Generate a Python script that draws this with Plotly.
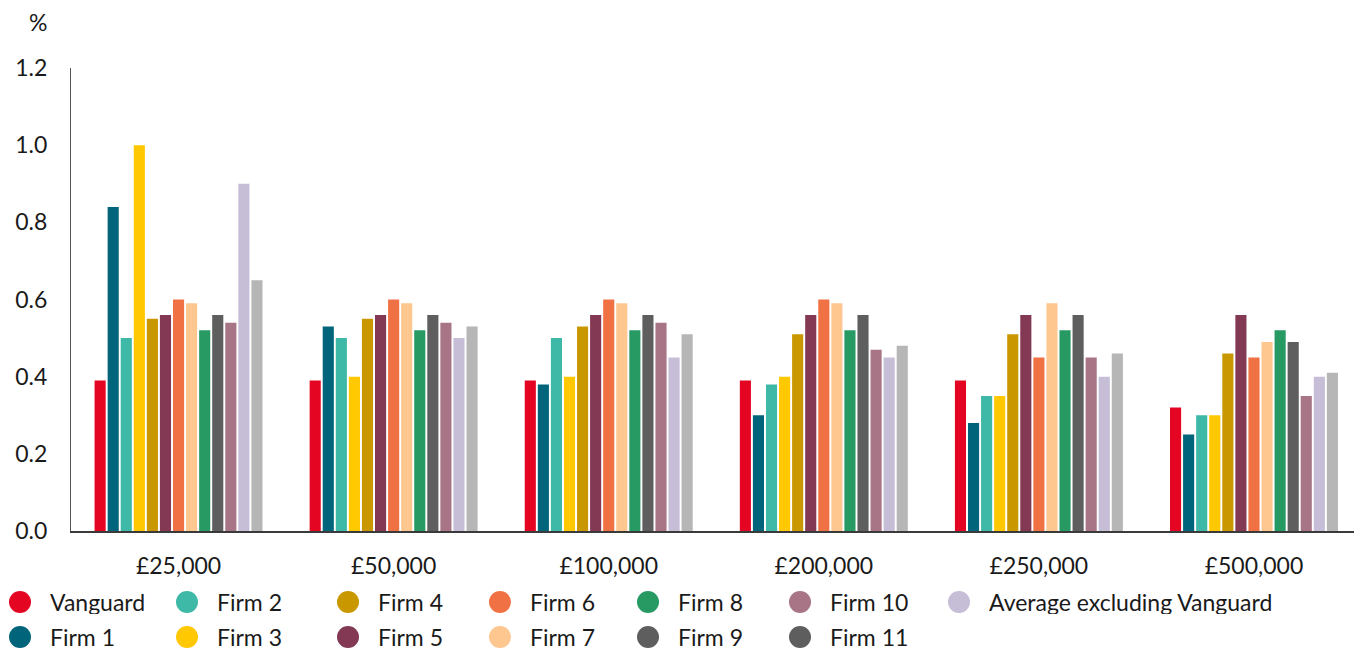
import plotly.graph_objects as go

categories = ["£25,000", "£50,000", "£100,000", "£200,000", "£250,000", "£500,000"]

series_names = ["Vanguard", "Firm 1", "Firm 2", "Firm 3", "Firm 4", "Firm 5", "Firm 6",
                "Firm 7", "Firm 8", "Firm 9", "Firm 10", "Firm 11", "Average excluding Vanguard"]

vanguard = [0.39, 0.39, 0.39, 0.39, 0.39, 0.32]
firm1 = [0.84, 0.53, 0.38, 0.30, 0.28, 0.25]
firm2 = [0.50, 0.50, 0.50, 0.38, 0.35, 0.30]
firm3 = [1.00, 0.40, 0.40, 0.40, 0.35, 0.30]
firm4 = [0.55, 0.55, 0.53, 0.51, 0.51, 0.46]
firm5 = [0.56, 0.56, 0.56, 0.56, 0.56, 0.56]
firm6 = [0.60, 0.60, 0.60, 0.60, 0.45, 0.45]
firm7 = [0.59, 0.59, 0.59, 0.59, 0.59, 0.49]
firm8 = [0.52, 0.52, 0.52, 0.52, 0.52, 0.52]
firm9 = [0.56, 0.56, 0.56, 0.56, 0.56, 0.49]
firm10 = [0.54, 0.54, 0.54, 0.47, 0.45, 0.35]
firm11 = [0.90, 0.50, 0.45, 0.45, 0.40, 0.40]
average_ex_vanguard = [0.65, 0.53, 0.51, 0.48, 0.46, 0.41]

series_values = [vanguard, firm1, firm2, firm3, firm4, firm5, firm6,
                 firm7, firm8, firm9, firm10, firm11, average_ex_vanguard]

bar_colors = ["#E40523", "#00657A", "#3EB8A7", "#FFC800", "#C99700", "#833853", "#F07244",
              "#FEC78F", "#279A63", "#5E5E5E", "#A77585", "#C6BDD7", "#B6B6B6"]

y_ticks = [0.0, 0.2, 0.4, 0.6, 0.8, 1.0, 1.2]
y_tick_labels = ["0.0", "0.2", "0.4", "0.6", "0.8", "1.0", "1.2"]

# Legend as shown in the reference (column-major, 2 rows)
legend_labels = ["Vanguard", "Firm 1", "Firm 2", "Firm 3", "Firm 4", "Firm 5", "Firm 6",
                 "Firm 7", "Firm 8", "Firm 9", "Firm 10", "Firm 11", "Average excluding Vanguard"]
legend_colors = ["#E40523", "#00657A", "#3EB8A7", "#FFC800", "#C99700", "#833853", "#F07244",
                 "#FEC78F", "#279A63", "#5E5E5E", "#A77585", "#5E5E5E", "#C6BDD7"]

FONT = "Lato"
FS = 23
TXT = "#1a1a1a"

fig = go.Figure()
for name, vals, col in zip(series_names, series_values, bar_colors):
    fig.add_trace(go.Bar(name=name, x=categories, y=vals, marker=dict(color=col, line=dict(width=0)),
                         showlegend=False))

W, H = 1354, 650
ml, mr, mt, mb = 71, 0, 68, 119

shapes = []
annotations = []
col_x = [20, 187, 348, 500, 648, 800, 959]
row_y = [602, 637]
r = 11
for i, (lab, col) in enumerate(zip(legend_labels, legend_colors)):
    c, rw = divmod(i, 2)
    cx, cy = col_x[c], row_y[rw]
    shapes.append(dict(type="circle", xref="paper", yref="paper",
                       x0=(cx - r - ml) / (W - ml - mr), x1=(cx + r - ml) / (W - ml - mr),
                       y0=(H - mb - (cy + r)) / (H - mt - mb), y1=(H - mb - (cy - r)) / (H - mt - mb),
                       fillcolor=col, line=dict(width=0)))
    annotations.append(dict(text=lab, xref="paper", yref="paper",
                            x=(cx + 29 - ml) / (W - ml - mr), y=(H - mb - cy) / (H - mt - mb),
                            xanchor="left", yanchor="middle", showarrow=False,
                            height=24, borderpad=0, valign="middle",
                            font=dict(family=FONT, size=FS, color=TXT)))

annotations.append(dict(text="%", xref="paper", yref="paper",
                        x=(38 - ml) / (W - ml - mr), y=(H - mb - 22) / (H - mt - mb),
                        xanchor="center", yanchor="middle", showarrow=False,
                        font=dict(family=FONT, size=FS, color=TXT)))

fig.update_layout(
    width=W, height=H,
    margin=dict(l=ml, r=mr, t=mt, b=mb, pad=0),
    paper_bgcolor="white", plot_bgcolor="white",
    barmode="group", bargap=0.21, bargroupgap=0.15,
    font=dict(family=FONT, size=FS, color=TXT),
    shapes=shapes, annotations=annotations,
    xaxis=dict(type="category", range=[-0.5, 5.465], showgrid=False, showline=True,
               linecolor="#3a3a3a", linewidth=2, ticks="", ticklabelstandoff=13,
               tickfont=dict(family=FONT, size=FS, color=TXT), zeroline=False),
    yaxis=dict(range=[0, 1.2], tickvals=y_ticks, ticktext=y_tick_labels, showgrid=False,
               showline=True, linecolor="#555555", linewidth=1, ticks="", ticklabelstandoff=18,
               tickfont=dict(family=FONT, size=FS, color=TXT), zeroline=False),
)

fig.write_html("out.html")
